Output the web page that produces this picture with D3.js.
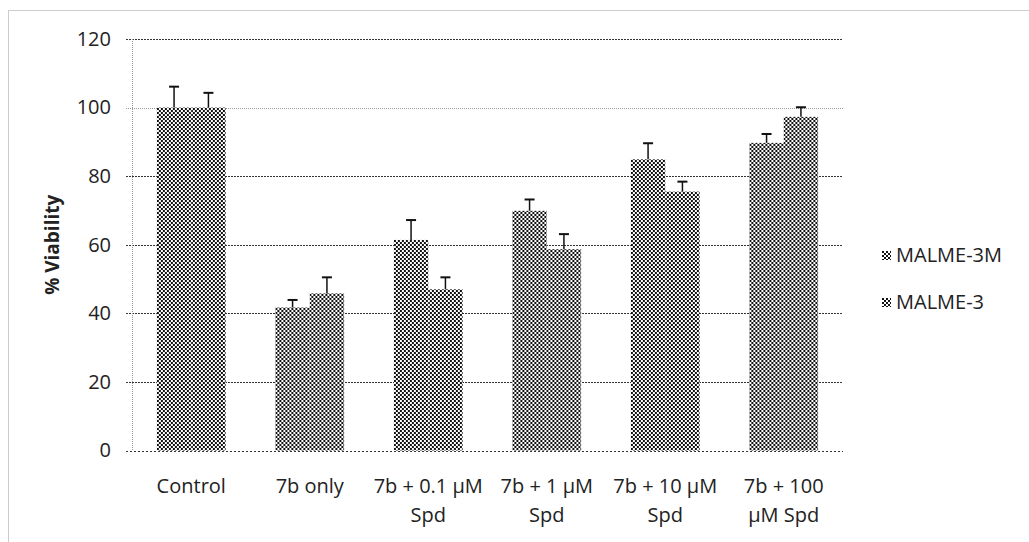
<!DOCTYPE html>
<html>
<head>
<meta charset="utf-8">
<script src="https://cdn.jsdelivr.net/npm/d3@7/dist/d3.min.js"></script>
<style>
  html, body { margin: 0; padding: 0; background: #fff; }
  svg { display: block; }
  text { font-family: "Open Sans", "Noto Sans", sans-serif; fill: #222; }
</style>
</head>
<body>
<svg id="chart" width="1029" height="542"></svg>
<script>
// ---- data ----
const categories = ["Control", "7b only", "7b + 0.1 µM\nSpd", "7b + 1 µM\nSpd", "7b + 10 µM\nSpd", "7b + 100\nµM Spd"];
const seriesNames = ["MALME-3M", "MALME-3"];
const malme3M = [100, 41.7, 61.4, 69.9, 84.9, 89.7];
const malme3 = [100, 45.8, 47.0, 58.7, 75.5, 97.3];
const malme3MErr = [6.1, 2.2, 5.8, 3.3, 4.7, 2.6];
const malme3Err = [4.3, 4.7, 3.5, 4.4, 2.9, 2.8];
const yTicks = [0, 20, 40, 60, 80, 100, 120];
const yTitle = "% Viability";

const values = [malme3M, malme3];
const errors = [malme3MErr, malme3Err];

const svg = d3.select("#chart");

// pattern
const defs = svg.append("defs");
const pat = defs.append("pattern").attr("id", "checker")
  .attr("patternUnits", "userSpaceOnUse").attr("width", 4).attr("height", 4);
pat.append("rect").attr("width", 4).attr("height", 4).attr("fill", "#fff");
pat.append("rect").attr("x", 0).attr("y", 0).attr("width", 2).attr("height", 2).attr("fill", "#111");
pat.append("rect").attr("x", 2).attr("y", 2).attr("width", 2).attr("height", 2).attr("fill", "#111");

// outer border (cropped at right/bottom)
svg.append("rect").attr("x", 8.5).attr("y", 10.5).attr("width", 1040).attr("height", 560)
  .attr("fill", "none").attr("stroke", "#999").attr("stroke-width", 1).attr("stroke-dasharray", "1,1");

const plotLeft = 132, plotRight = 843, plotTop = 39, plotBottom = 450.5;

const x = d3.scaleBand().domain(categories).range([plotLeft, plotRight])
  .paddingInner(0.42).paddingOuter(0.21);
const xs = d3.scaleBand().domain(seriesNames).range([0, x.bandwidth()]).padding(0);
const y = d3.scaleLinear().domain([0, 120]).range([plotBottom, plotTop]);

// gridlines
svg.append("g").selectAll("line").data(yTicks.filter(d => d > 0)).join("line")
  .attr("x1", plotLeft - 6).attr("x2", plotRight)
  .attr("y1", d => Math.round(y(d)) + 0.5).attr("y2", d => Math.round(y(d)) + 0.5)
  .attr("stroke", d => d === 100 ? "#999" : "#333")
  .attr("stroke-width", 1)
  .attr("stroke-dasharray", d => d === 100 ? "1,1" : "2,1");

// vertical axis line
svg.append("line").attr("x1", plotLeft + 0.5).attr("x2", plotLeft + 0.5)
  .attr("y1", plotTop).attr("y2", plotBottom)
  .attr("stroke", "#999").attr("stroke-dasharray", "1,1");

// bars
const groups = svg.append("g").selectAll("g").data(categories).join("g")
  .attr("transform", d => `translate(${x(d)},0)`);
groups.selectAll("rect").data((c, i) => seriesNames.map((s, k) => ({ s, v: values[k][i] }))).join("rect")
  .attr("x", d => xs(d.s)).attr("width", xs.bandwidth())
  .attr("y", d => y(d.v)).attr("height", d => y(0) - y(d.v))
  .attr("fill", "url(#checker)");

// bottom axis line
svg.append("line").attr("x1", plotLeft - 6).attr("x2", plotRight)
  .attr("y1", Math.round(plotBottom) + 0.5).attr("y2", Math.round(plotBottom) + 0.5)
  .attr("stroke", "#333").attr("stroke-dasharray", "2,2");

// error bars
const errData = [];
categories.forEach((c, i) => seriesNames.forEach((s, k) => {
  errData.push({ c, s, v: values[k][i], e: errors[k][i] });
}));
const eg = svg.append("g");
eg.selectAll("line.v").data(errData).join("line").attr("class", "v")
  .attr("x1", d => x(d.c) + xs(d.s) + xs.bandwidth() / 2)
  .attr("x2", d => x(d.c) + xs(d.s) + xs.bandwidth() / 2)
  .attr("y1", d => y(d.v)).attr("y2", d => y(d.v + d.e))
  .attr("stroke", "#111").attr("stroke-width", 1.5);
eg.selectAll("line.c").data(errData).join("line").attr("class", "c")
  .attr("x1", d => x(d.c) + xs(d.s) + xs.bandwidth() / 2 - 5)
  .attr("x2", d => x(d.c) + xs(d.s) + xs.bandwidth() / 2 + 5)
  .attr("y1", d => y(d.v + d.e)).attr("y2", d => y(d.v + d.e))
  .attr("stroke", "#111").attr("stroke-width", 2);

// y axis labels
const yAxis = d3.axisLeft(y).tickValues(yTicks).tickSize(0).tickPadding(0);
const yg = svg.append("g").attr("transform", `translate(111,0)`).call(yAxis);
yg.select(".domain").remove();
yg.selectAll("text").style("font-family", "'Open Sans', sans-serif").style("font-size", "20px").attr("fill", "#222").attr("x", 0);

// x axis labels
const xAxis = d3.axisBottom(x).tickSize(0).tickFormat("");
const xg = svg.append("g").attr("transform", `translate(0,${plotBottom})`).call(xAxis);
xg.select(".domain").remove();
xg.selectAll(".tick").each(function(d) {
  const t = d3.select(this).append("text").attr("text-anchor", "middle")
    .style("font-size", "20px").attr("fill", "#222");
  d.split("\n").forEach((line, i) => {
    t.append("tspan").attr("x", 0).attr("y", 42 + i * 29).text(line);
  });
});

// y title
svg.append("text").attr("transform", `translate(59,${(plotTop + plotBottom) / 2}) rotate(-90)`)
  .attr("text-anchor", "middle").style("font-size", "19px").style("font-weight", "bold")
  .text(yTitle);

// legend
const legend = svg.append("g").selectAll("g").data(seriesNames).join("g")
  .attr("transform", (d, i) => `translate(882,${255 + i * 47})`);
legend.append("rect").attr("x", 0).attr("y", -4).attr("width", 9).attr("height", 9).attr("fill", "url(#checker)");
legend.append("text").attr("x", 14).attr("y", 0).attr("dy", "0.35em")
  .style("font-size", "20px").text(d => d);
</script>
</body>
</html>
